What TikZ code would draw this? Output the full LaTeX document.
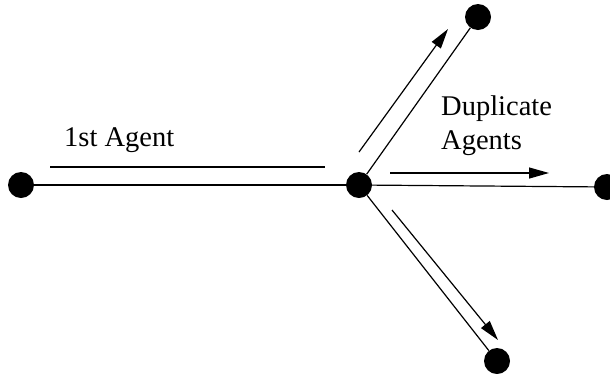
\documentclass[tikz,border=0pt]{standalone}
\usepackage{fontspec}
\setmainfont{Liberation Serif}
\usetikzlibrary{arrows.meta}
\begin{document}
\begin{tikzpicture}[x=1pt,y=-1pt,
  agent/.style={circle,fill=black,inner sep=0pt,minimum size=26pt},
  link/.style={line width=1.2pt},
  flow/.style={line width=1.2pt,-{Triangle[length=20pt,width=11pt]}},
  lbl/.style={font=\fontsize{28.5}{31}\selectfont,inner sep=0pt,align=left}]
\useasboundingbox (0,0) rectangle (610,373);
% agents
\node[agent] (src) at (21,185) {};
\node[agent] (hub) at (359,185) {};
\node[agent] (up) at (478,17) {};
\node[agent] (right) at (607,187) {};
\node[agent] (down) at (497,361) {};
% links
\draw[link] (src) -- (hub);
\draw[link] (hub) -- (up);
\draw[link] (hub) -- (right);
\draw[link] (hub) -- (down);
% travel markers
\coordinate (a1) at (50,167);
\coordinate (a2) at (325,167);
\draw[link] (a1) -- (a2);
\coordinate (u1) at (359,152);
\coordinate (u2) at (448,29);
\draw[flow] (u1) -- (u2);
\coordinate (r1) at (390,173);
\coordinate (r2) at (549,173);
\draw[flow] (r1) -- (r2);
\coordinate (d1) at (392,210);
\coordinate (d2) at (498,340);
\draw[flow] (d1) -- (d2);
% labels
\node[lbl,anchor=base west] (first) at (64,146) {1st Agent};
\node[lbl,anchor=base west] (dup1) at (441,115) {Duplicate};
\node[lbl,anchor=base west] (dup2) at (441,149) {Agents};
\end{tikzpicture}
\end{document}
